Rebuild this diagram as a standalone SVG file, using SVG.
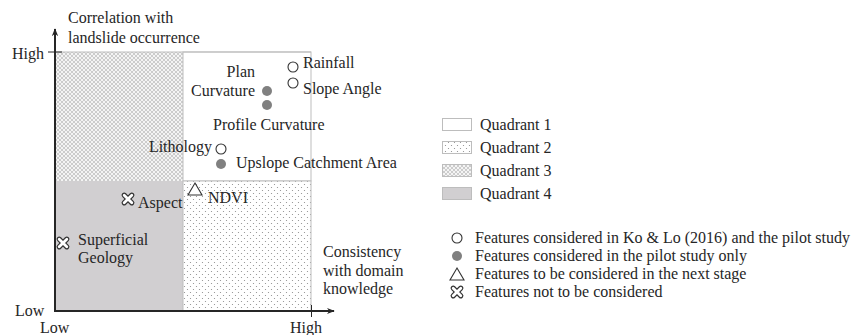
<svg xmlns="http://www.w3.org/2000/svg" width="860" height="335" viewBox="0 0 860 335">
<style>
text{font-family:"Liberation Serif","Times New Roman",serif;font-size:16px;fill:#262626}
.open{fill:#fff;stroke:#333;stroke-width:1.1}
.fill{fill:#808080}
.bx{stroke:#bdbdbd;stroke-width:1}
.axis{stroke:#262626;stroke-width:2;fill:none}
</style>
<defs>
<pattern id="hatch" width="4" height="4" patternUnits="userSpaceOnUse"><rect width="4" height="4" fill="#f4f4f4"/><path d="M0,0 L4,4 M4,0 L0,4" stroke="#c2c2c2" stroke-width="0.8"/></pattern>
<pattern id="dots" width="6" height="6" patternUnits="userSpaceOnUse"><rect width="6" height="6" fill="#fff"/><circle cx="1.5" cy="1.5" r="0.6" fill="#8a8a8a"/><circle cx="4.5" cy="4.5" r="0.6" fill="#8a8a8a"/></pattern>
<marker id="arr" viewBox="0 0 10 10" refX="9" refY="5" markerWidth="8" markerHeight="8" markerUnits="userSpaceOnUse" orient="auto"><path d="M0,1 L10,5 L0,9 L3,5 Z" fill="#262626"/></marker>
<g id="xsym"><path d="M-3.8,-3.8 L3.8,3.8 M-3.8,3.8 L3.8,-3.8" stroke="#333" stroke-width="5.2" stroke-linecap="round"/><path d="M-3.8,-3.8 L3.8,3.8 M-3.8,3.8 L3.8,-3.8" stroke="#fff" stroke-width="2.8" stroke-linecap="round"/></g>
</defs>
<rect width="860" height="335" fill="#fff"/>

<g id="quadrants">
<rect id="q3" x="55" y="52" width="128" height="129" fill="url(#hatch)"/>
<rect id="q1" x="183" y="52" width="128" height="129" fill="#fff" class="bx"/>
<rect id="q4" x="55" y="181" width="128" height="130" fill="#d1cfd1"/>
<rect id="q2" x="183" y="181" width="128" height="130" fill="url(#dots)" class="bx"/>
<line x1="55" y1="52" x2="311" y2="52" class="bx"/>
</g>

<g id="connectors">
<line x1="55" y1="311" x2="55" y2="29" class="axis" marker-end="url(#arr)"/>
<line x1="54" y1="311" x2="334" y2="311" class="axis" marker-end="url(#arr)"/>
<line x1="48" y1="52" x2="62" y2="52" stroke="#262626" stroke-width="1"/>
<line x1="311.5" y1="305" x2="311.5" y2="317" stroke="#262626" stroke-width="1"/>
</g>

<g id="axis-labels">
<text x="68" y="23">Correlation with</text>
<text x="68" y="43">landslide occurrence</text>
<text x="12" y="59">High</text>
<text x="15" y="316">Low</text>
<text x="40" y="333">Low</text>
<text x="290" y="333">High</text>
<text x="323" y="257">Consistency</text>
<text x="323" y="276">with domain</text>
<text x="323" y="294">knowledge</text>
</g>

<g id="rainfall"><circle cx="293" cy="67" r="5" class="open"/><text x="303" y="68">Rainfall</text></g>
<g id="slope-angle"><circle cx="293" cy="83" r="5" class="open"/><text x="303" y="94">Slope Angle</text></g>
<g id="plan-curvature"><circle cx="267" cy="91" r="5" class="fill"/><text x="255" y="77" text-anchor="end">Plan</text><text x="255" y="96" text-anchor="end">Curvature</text></g>
<g id="profile-curvature"><circle cx="267" cy="105" r="5" class="fill"/><text x="213" y="130">Profile Curvature</text></g>
<g id="lithology"><circle cx="221" cy="149" r="5" class="open"/><text x="212" y="152" text-anchor="end">Lithology</text></g>
<g id="upslope"><circle cx="221" cy="164" r="5" class="fill"/><text x="236" y="168">Upslope Catchment Area</text></g>
<g id="ndvi"><path d="M195,183 L202,195 L188,195 Z" fill="#fff" stroke="#333" stroke-width="1.1"/><text x="208" y="203">NDVI</text></g>
<g id="aspect"><use href="#xsym" x="128" y="199"/><text x="138" y="208">Aspect</text></g>
<g id="superficial-geology"><use href="#xsym" x="63" y="243"/><text x="78" y="245">Superficial</text><text x="78" y="263">Geology</text></g>

<g id="legend-quadrants">
<rect x="442.5" y="118.5" width="29" height="12" fill="#fff" class="bx"/><text x="480" y="130">Quadrant 1</text>
<rect x="442.5" y="141.5" width="29" height="12" fill="url(#dots)" class="bx"/><text x="480" y="153">Quadrant 2</text>
<rect x="442.5" y="164.5" width="29" height="12" fill="url(#hatch)" class="bx"/><text x="480" y="176">Quadrant 3</text>
<rect x="442.5" y="187.5" width="29" height="12" fill="#d1cfd1" class="bx"/><text x="480" y="199">Quadrant 4</text>
</g>

<g id="legend-features">
<circle cx="457" cy="238" r="5" class="open"/><text x="475" y="243">Features considered in Ko &amp; Lo (2016) and the pilot study</text>
<circle cx="457" cy="256" r="5" class="fill"/><text x="475" y="261">Features considered in the pilot study only</text>
<path d="M457,268 L464,280 L450,280 Z" fill="#fff" stroke="#333" stroke-width="1.1"/><text x="475" y="279">Features to be considered in the next stage</text>
<use href="#xsym" x="457" y="292"/><text x="475" y="297">Features not to be considered</text>
</g>
</svg>
